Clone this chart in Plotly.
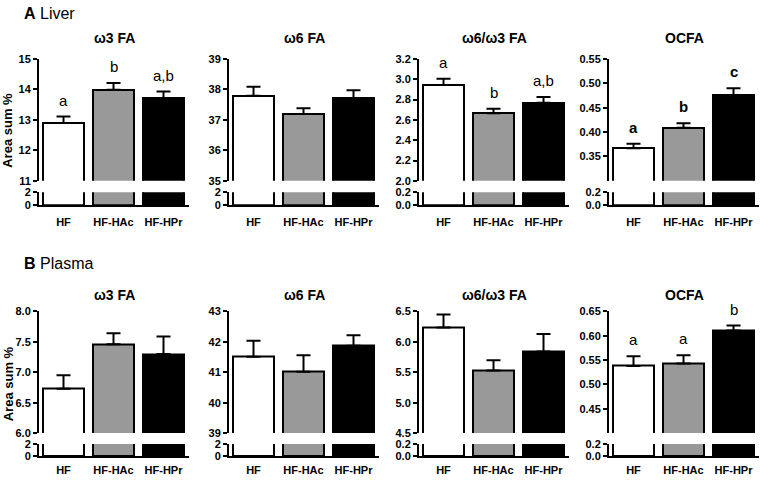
import plotly.graph_objects as go

groups = ["HF", "HF-HAc", "HF-HPr"]
panel_titles = ["ω3 FA", "ω6 FA", "ω6/ω3 FA", "OCFA"]

# Liver means and SEM
liver_w3 = [12.90, 13.99, 13.71]
liver_w3_err = [0.21, 0.22, 0.22]
liver_w6 = [37.79, 37.19, 37.71]
liver_w6_err = [0.30, 0.19, 0.26]
liver_ratio = [2.944, 2.666, 2.768]
liver_ratio_err = [0.061, 0.044, 0.058]
liver_ocfa = [0.367, 0.409, 0.476]
liver_ocfa_err = [0.009, 0.009, 0.014]

# Plasma means and SEM
plasma_w3 = [6.73, 7.46, 7.30]
plasma_w3_err = [0.22, 0.18, 0.29]
plasma_w6 = [41.51, 41.02, 41.87]
plasma_w6_err = [0.53, 0.54, 0.35]
plasma_ratio = [6.238, 5.527, 5.842]
plasma_ratio_err = [0.214, 0.171, 0.289]
plasma_ocfa = [0.538, 0.543, 0.611]
plasma_ocfa_err = [0.020, 0.017, 0.010]

# Axis ticks (upper segment, lower segment)
liver_w3_ticks = [11, 12, 13, 14, 15]
liver_w6_ticks = [35, 36, 37, 38, 39]
liver_ratio_ticks = [2.0, 2.2, 2.4, 2.6, 2.8, 3.0, 3.2]
liver_ocfa_ticks = [0.35, 0.40, 0.45, 0.50, 0.55]
plasma_w3_ticks = [6.0, 6.5, 7.0, 7.5, 8.0]
plasma_w6_ticks = [39, 40, 41, 42, 43]
plasma_ratio_ticks = [4.5, 5.0, 5.5, 6.0, 6.5]
plasma_ocfa_ticks = [0.45, 0.50, 0.55, 0.60, 0.65]
lower_ticks_int = [0, 2]
lower_ticks_dec = [0.0, 0.2]

# Significance letters
liver_w3_letters = ["a", "b", "a,b"]
liver_ratio_letters = ["a", "b", "a,b"]
liver_ocfa_letters = ["a", "b", "c"]
plasma_ocfa_letters = ["a", "a", "b"]

bar_colors = ["white", "#999999", "black"]

panels = [
    dict(row=0, col=0, v=liver_w3, e=liver_w3_err, ur=[11, 15], ut=liver_w3_ticks, uf=".0f",
         lr=[0, 2], lt=lower_ticks_int, lf=".0f", letters=liver_w3_letters, lb=False),
    dict(row=0, col=1, v=liver_w6, e=liver_w6_err, ur=[35, 39], ut=liver_w6_ticks, uf=".0f",
         lr=[0, 2], lt=lower_ticks_int, lf=".0f", letters=None, lb=False),
    dict(row=0, col=2, v=liver_ratio, e=liver_ratio_err, ur=[2.0, 3.2], ut=liver_ratio_ticks, uf=".1f",
         lr=[0, 0.2], lt=lower_ticks_dec, lf=".1f", letters=liver_ratio_letters, lb=False),
    dict(row=0, col=3, v=liver_ocfa, e=liver_ocfa_err, ur=[0.30, 0.55], ut=liver_ocfa_ticks, uf=".2f",
         lr=[0, 0.2], lt=lower_ticks_dec, lf=".1f", letters=liver_ocfa_letters, lb=True),
    dict(row=1, col=0, v=plasma_w3, e=plasma_w3_err, ur=[6.0, 8.0], ut=plasma_w3_ticks, uf=".1f",
         lr=[0, 2], lt=lower_ticks_int, lf=".0f", letters=None, lb=False),
    dict(row=1, col=1, v=plasma_w6, e=plasma_w6_err, ur=[39, 43], ut=plasma_w6_ticks, uf=".0f",
         lr=[0, 2], lt=lower_ticks_int, lf=".0f", letters=None, lb=False),
    dict(row=1, col=2, v=plasma_ratio, e=plasma_ratio_err, ur=[4.5, 6.5], ut=plasma_ratio_ticks, uf=".1f",
         lr=[0, 0.2], lt=lower_ticks_dec, lf=".1f", letters=None, lb=False),
    dict(row=1, col=3, v=plasma_ocfa, e=plasma_ocfa_err, ur=[0.40, 0.65], ut=plasma_ocfa_ticks, uf=".2f",
         lr=[0, 0.2], lt=lower_ticks_dec, lf=".1f", letters=plasma_ocfa_letters, lb=False),
]

W, H = 760, 480
def fx(px):
    return px / W
def fy(px):
    return 1 - px / H

rows = [
    dict(upper=(54.3, 179.3), lower=(191.0, 204.0), title=33, label=8, ylab=128, xticklen=6),
    dict(upper=(313.3, 438.0), lower=(449.3, 461.7), title=296, label=264, ylab=388, xticklen=3),
]
FONT = "Liberation Sans, Arial, sans-serif"
xrange_ = [-0.49, 2.51]

fig = go.Figure()
layout = dict(
    width=W, height=H, margin=dict(l=0, r=0, t=0, b=0),
    paper_bgcolor="white", plot_bgcolor="rgba(0,0,0,0)",
    showlegend=False, bargap=0, font=dict(family=FONT, color="black"),
)
annotations = []

for k, p in enumerate(panels):
    r = rows[p["row"]]
    x0 = 39 + 190 * p["col"]
    x1 = x0 + 150
    iu, il = 2 * k + 1, 2 * k + 2
    xu, xl = f"x{iu}", f"x{il}"
    yu, yl = f"y{iu}", f"y{il}"
    xpos = list(range(len(groups)))
    fig.add_trace(go.Bar(
        x=xpos, y=p["v"], width=0.82, xaxis=xu, yaxis=yu,
        marker=dict(color=bar_colors, line=dict(color="black", width=2)),
        error_y=dict(type="data", symmetric=False, array=p["e"], arrayminus=[0] * 3,
                     color="black", thickness=2, width=7),
        hoverinfo="skip",
    ))
    fig.add_trace(go.Bar(
        x=xpos, y=p["v"], width=0.82, xaxis=xl, yaxis=yl,
        marker=dict(color=bar_colors, line=dict(color="black", width=2)),
        hoverinfo="skip",
    ))
    dom_x = [fx(x0), fx(x1)]
    tickfont = dict(family=FONT, size=11, color="black", weight="bold")
    layout[f"xaxis{iu}"] = dict(domain=dom_x, range=xrange_, anchor=yu, visible=False, fixedrange=True)
    layout[f"xaxis{il}"] = dict(domain=dom_x, range=xrange_, anchor=yl, showline=True, linecolor="black",
                                linewidth=2, tickvals=xpos, ticktext=groups, ticks="outside",
                                ticklen=r["xticklen"], tickcolor="rgba(0,0,0,0)",
                                tickfont=dict(family=FONT, size=11, color="black", weight="bold"),
                                showgrid=False, zeroline=False, fixedrange=True)
    layout[f"yaxis{iu}"] = dict(domain=[fy(r["upper"][1]), fy(r["upper"][0])], range=p["ur"], anchor=xu,
                                tickvals=p["ut"], tickformat=p["uf"], ticks="outside", ticklen=4,
                                tickwidth=2, tickcolor="black", showline=True, linecolor="black",
                                linewidth=2, showgrid=False, zeroline=False, tickfont=tickfont,
                                fixedrange=True)
    layout[f"yaxis{il}"] = dict(domain=[fy(r["lower"][1]), fy(r["lower"][0])], range=p["lr"], anchor=xl,
                                tickvals=p["lt"], tickformat=p["lf"], ticks="outside", ticklen=4,
                                tickwidth=2, tickcolor="black", showline=True, linecolor="black",
                                linewidth=2, showgrid=False, zeroline=False, tickfont=tickfont,
                                fixedrange=True)
    annotations.append(dict(
        text=panel_titles[p["col"]], xref="paper", yref="paper", x=fx(x0 + 75), y=fy(r["title"]),
        xanchor="center", yanchor="middle", showarrow=False,
        font=dict(family=FONT, size=14, color="black", weight="bold"),
    ))
    if p["letters"]:
        for i, lt in enumerate(p["letters"]):
            annotations.append(dict(
                text=lt, xref=xu, yref=yu, x=i, y=p["v"][i] + p["e"][i],
                xanchor="center", yanchor="bottom", yshift=6, showarrow=False,
                font=dict(family=FONT, size=15, color="black", weight="bold" if p["lb"] else "normal"),
            ))

for r, lab in zip(rows, [("A", "Liver"), ("B", "Plasma")]):
    annotations.append(dict(
        text=f"<b>{lab[0]}</b> {lab[1]}", xref="paper", yref="paper",
        x=fx(22), y=fy(r["label"]), xanchor="left", yanchor="middle", showarrow=False,
        font=dict(family=FONT, size=16, color="black"),
    ))
    annotations.append(dict(
        text="Area sum %", xref="paper", yref="paper", x=fx(8), y=fy(r["ylab"]),
        xanchor="center", yanchor="middle", textangle=-90, showarrow=False,
        font=dict(family=FONT, size=13, color="black", weight="bold"),
    ))

layout["annotations"] = annotations
fig.update_layout(**layout)
fig.write_html("out.html", config={"displayModeBar": False},
               post_script="document.body.style.margin='0px';document.body.style.overflow='hidden';")
